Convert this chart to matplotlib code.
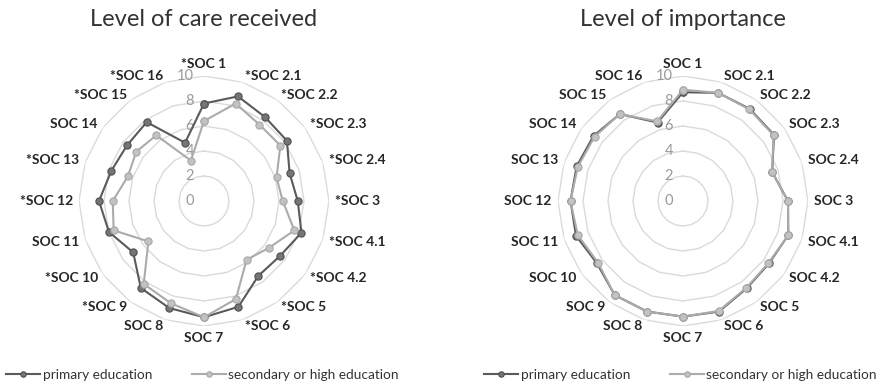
import numpy as np
import matplotlib.pyplot as plt
from matplotlib.transforms import offset_copy

plt.rcParams['font.family'] = ['Lato', 'DejaVu Sans']

categories = ['SOC 1', 'SOC 2.1', 'SOC 2.2', 'SOC 2.3', 'SOC 2.4', 'SOC 3', 'SOC 4.1',
              'SOC 4.2', 'SOC 5', 'SOC 6', 'SOC 7', 'SOC 8', 'SOC 9', 'SOC 10',
              'SOC 11', 'SOC 12', 'SOC 13', 'SOC 14', 'SOC 15', 'SOC 16']
# significant differences in received care are starred
care_starred = [1, 1, 1, 1, 1, 1, 1, 1, 1, 1, 0, 0, 1, 1, 0, 1, 1, 0, 1, 1]

care_primary = [7.8, 8.8, 8.3, 8.2, 7.2, 7.5, 8.2, 7.5, 7.4, 8.9,
                9.3, 9.0, 8.6, 7.0, 8.0, 8.4, 7.8, 7.6, 7.8, 4.9]
care_secondary = [6.4, 8.2, 7.55, 7.55, 6.1, 6.3, 7.6, 6.4, 5.8, 8.25,
                  9.3, 8.6, 8.2, 5.5, 7.6, 7.3, 6.4, 6.7, 6.5, 3.4]
imp_primary = [8.7, 9.1, 9.1, 9.0, 7.5, 8.4, 8.85, 8.5, 8.65, 9.3,
               9.25, 9.3, 9.3, 8.5, 9.0, 9.0, 8.95, 8.85, 8.6, 6.6]
imp_secondary = [8.9, 9.1, 9.05, 8.95, 7.5, 8.4, 8.85, 8.45, 8.6, 9.25,
                 9.25, 9.3, 9.3, 8.4, 8.85, 9.0, 8.85, 8.75, 8.6, 6.7]

rings = [2, 4, 6, 8, 10]
series_names = ['primary education', 'secondary or high education']

W, H = 888, 383
fig = plt.figure(figsize=(W / 100, H / 100), dpi=100)

angles = np.linspace(0, 2 * np.pi, len(categories), endpoint=False)
closed = np.append(angles, angles[0])


def radar(cx, title, labels, primary, secondary, legend_x):
    R = 125
    ax = fig.add_axes([(cx - R) / W, (H - 201 - R) / H, 2 * R / W, 2 * R / H],
                      projection='polar')
    ax.set_theta_zero_location('N')
    ax.set_theta_direction(-1)
    ax.set_ylim(0, 10)
    ax.grid(False)
    ax.spines['polar'].set_visible(False)
    ax.set_xticks([])
    ax.set_yticks([])
    ax.patch.set_alpha(0)

    # polygon gridlines
    for r in rings:
        ax.plot(closed, [r] * len(closed), color='#dadada', lw=1, zorder=1)

    # value labels along the vertical axis
    trans = offset_copy(ax.transData, fig=fig, x=-10, y=0, units='dots')
    for v in [0] + rings:
        ax.text(0, v, str(v), transform=trans, ha='right', va='center',
                fontsize=10.5, color='#9a9a9a')

    # category labels
    for a, lab in zip(angles, labels):
        s, c = np.sin(a), np.cos(a)
        if abs(s) < 0.05:
            ha = 'center'
            va = 'bottom' if c > 0 else 'top'
        else:
            ha = 'left' if s > 0 else 'right'
            va = 'center'
        ax.text(a, 10.5, lab, ha=ha, va=va, fontsize=10, fontweight='bold',
                color='#262626', clip_on=False)

    l1, = ax.plot(closed, primary + primary[:1], color='#5a5a5a', lw=1.5,
                  marker='o', ms=5.2, mfc='#757575', mec='#505050', mew=0.8, zorder=3)
    l2, = ax.plot(closed, secondary + secondary[:1], color='#ababab', lw=1.5,
                  marker='o', ms=5.2, mfc='#c2c2c2', mec='#a8a8a8', mew=0.8, zorder=4)

    fig.text(cx / W, 1 - 20 / H, title, ha='center', va='center',
             fontsize=17, color='#333333')

    fig.legend([l1, l2], series_names, loc='center left',
               bbox_to_anchor=(legend_x / W, 1 - 375 / H), ncol=2, frameon=False,
               fontsize=9.8, handlelength=2.5, handletextpad=0.2, markerscale=0.75,
               columnspacing=2.9, borderpad=0, borderaxespad=0,
               labelcolor='#333333')
    return ax


care_labels = [('*' if s else '') + c for s, c in zip(care_starred, categories)]
radar(204, 'Level of care received', care_labels, care_primary, care_secondary, 6)
radar(683, 'Level of importance', categories, imp_primary, imp_secondary, 484)

fig.savefig('out.png', dpi=100)
